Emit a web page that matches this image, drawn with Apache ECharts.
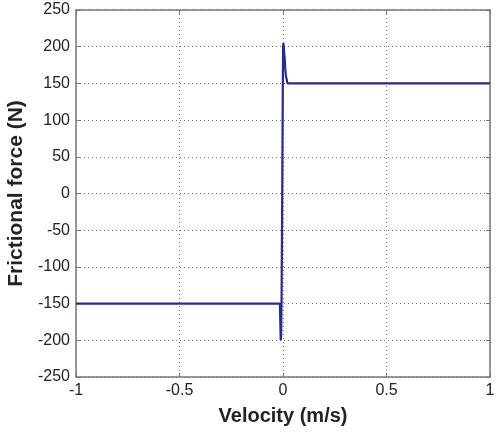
<!DOCTYPE html>
<html>
<head>
<meta charset="utf-8">
<script src="https://cdn.jsdelivr.net/npm/echarts@6/dist/echarts.min.js"></script>
<style>
  html, body { margin: 0; padding: 0; background: #fff; }
  #chart { width: 497px; height: 432px; }
</style>
</head>
<body>
<div id="chart"></div>
<script>
// Friction force vs. sliding velocity (Stribeck-like curve with stiction peak)
const velocity = [-1, -0.015, -0.013, -0.011, -0.009, -0.007, -0.005, -0.003, -0.001, 0.0005, 0.002, 0.004, 0.006, 0.008, 0.011, 0.014, 0.018, 0.022, 1];
const force    = [-150, -150, -175, -200, -195, -150, -60, 40, 140, 200, 205, 200, 190, 185, 170, 160, 155, 150, 150];
const xTicks = [-1, -0.5, 0, 0.5, 1];
const yTicks = [-250, -200, -150, -100, -50, 0, 50, 100, 150, 200, 250];

const series = velocity.map((v, i) => [v, force[i]]);

const textColor = '#222';
const boxColor = '#777';
const font = 'Liberation Sans, Arial, sans-serif';

const chart = echarts.init(document.getElementById('chart'), null, { renderer: 'canvas' });

const baseTick = { show: true, inside: true, length: 4, lineStyle: { color: boxColor, width: 1 } };
const dotted = { show: true, lineStyle: { color: '#777', type: [1, 3], width: 1 } };
const frameLine = { show: true, onZero: false, lineStyle: { color: boxColor, width: 1.5 } };

chart.setOption({
  animation: false,
  backgroundColor: '#fff',
  grid: { left: 76, right: 7, top: 10, bottom: 55, containLabel: false, outerBoundsMode: 'none' },
  xAxis: [{
    type: 'value', min: xTicks[0], max: xTicks[xTicks.length - 1], interval: 0.5,
    position: 'bottom',
    name: 'Velocity (m/s)', nameLocation: 'middle', nameGap: 29,
    nameTextStyle: { color: textColor, fontSize: 20, fontWeight: 'bold', fontFamily: font },
    axisLine: frameLine,
    axisTick: baseTick,
    axisLabel: { color: textColor, fontSize: 16, fontFamily: font, margin: 6,
      formatter: v => String(v) },
    splitLine: dotted
  }, {
    type: 'value', min: -1, max: 1, interval: 0.5, position: 'top',
    axisLine: frameLine,
    axisTick: baseTick, axisLabel: { show: false }, splitLine: { show: false }
  }],
  yAxis: [{
    type: 'value', min: yTicks[0], max: yTicks[yTicks.length - 1], interval: 50,
    position: 'left',
    name: 'Frictional force (N)', nameLocation: 'middle', nameGap: 43, nameRotate: 90,
    nameTextStyle: { color: textColor, fontSize: 21, fontWeight: 'bold', fontFamily: font },
    axisLine: frameLine,
    axisTick: baseTick,
    axisLabel: { color: textColor, fontSize: 16, fontFamily: font, margin: 6 },
    splitLine: dotted
  }, {
    type: 'value', min: -250, max: 250, interval: 50, position: 'right',
    axisLine: frameLine,
    axisTick: baseTick, axisLabel: { show: false }, splitLine: { show: false }
  }],
  series: [{
    type: 'line',
    data: series,
    symbol: 'none',
    lineStyle: { color: '#2a2a8e', width: 2.2 },
    z: 5
  }]
});
</script>
</body>
</html>
